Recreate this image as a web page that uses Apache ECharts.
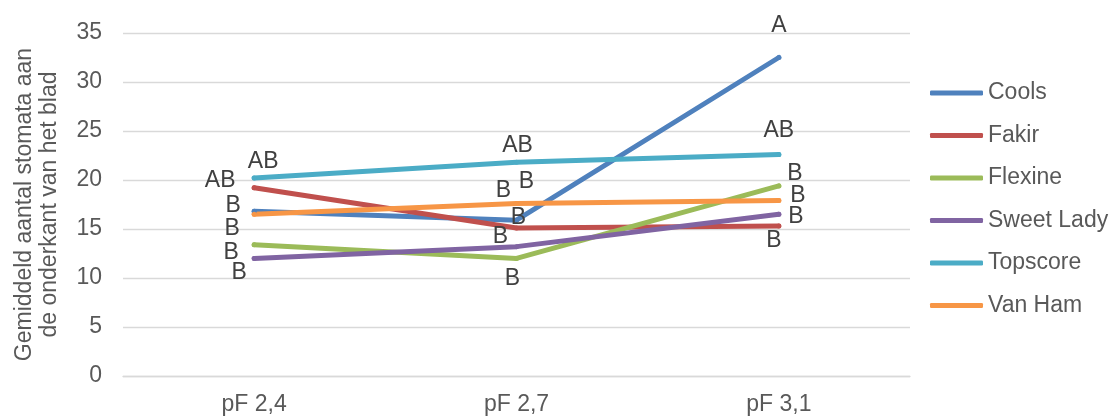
<!DOCTYPE html>
<html>
<head>
<meta charset="utf-8">
<script src="https://cdn.jsdelivr.net/npm/echarts@6/dist/echarts.min.js"></script>
<style>
	html, body { margin: 0; padding: 0; background: #fff; }
	#chart { width: 1110px; height: 417px; }
</style>
</head>
<body>
<div id="chart"></div>
<script>
// categories and values
var categories = ['pF 2,4', 'pF 2,7', 'pF 3,1'];
var names = ['Cools', 'Fakir', 'Flexine', 'Sweet Lady', 'Topscore', 'Van Ham'];

var cools = [16.8, 15.9, 32.5];
var fakir = [19.2, 15.1, 15.3];
var flexine = [13.4, 12.0, 19.4];
var sweetLady = [12.0, 13.2, 16.5];
var topscore = [20.2, 21.8, 22.6];
var vanHam = [16.5, 17.6, 17.9];

// significance letters
var coolsLetters = ['B', 'B', 'A'];
var fakirLetters = ['AB', 'B', 'B'];
var flexineLetters = ['B', 'B', 'B'];
var sweetLadyLetters = ['B', 'B', 'B'];
var topscoreLetters = ['AB', 'AB', 'AB'];
var vanHamLetters = ['B', 'B', 'B'];

var yTicks = [0, 5, 10, 15, 20, 25, 30, 35];

var values = [cools, fakir, flexine, sweetLady, topscore, vanHam];
var letters = [coolsLetters, fakirLetters, flexineLetters, sweetLadyLetters, topscoreLetters, vanHamLetters];
var colors = ['#4F81BD', '#C0504D', '#9BBB59', '#8064A2', '#4BACC6', '#F79646'];

// manual label placement (pixels from the point), like the hand-moved labels in the original
var labelShift = [
	[[-21, -6], [2, -3], [0, -32]],
	[[-34, -7], [10, -46], [-5, 15]],
	[[-23, 8], [-4, 20], [16, -12]],
	[[-15, 14], [-16, -10], [17, 2]],
	[[9, -16], [1, -17], [0, -24]],
	[[-22, 14], [-13, -13], [19, -5]]
];

var font = 'Liberation Sans, Arial, sans-serif';
var myChart = echarts.init(document.getElementById('chart'));

var series = [];
for (var s = 0; s < names.length; s++) {
	var data = [];
	for (var i = 0; i < categories.length; i++) {
		data.push({
			value : values[s][i],
			label : {
				formatter : letters[s][i],
				offset : labelShift[s][i]
			}
		});
	}
	series.push({
		name : names[s],
		type : 'line',
		data : data,
		symbol : 'circle',
		symbolSize : 5,
		color : colors[s],
		itemStyle : { color : colors[s] },
		lineStyle : { width : 5, color : colors[s], cap : 'round', join : 'round' },
		emphasis : { disabled : true },
		label : {
			show : true,
			position : 'inside',
			fontFamily : font,
			fontSize : 23,
			color : '#404040',
			align : 'center',
			verticalAlign : 'middle'
		},
		animation : false
	});
}

var option = {
	grid : { left : 123, right : 200, top : 33, bottom : 41, containLabel : false, outerBoundsMode : 'none' },
	legend : {
		orient : 'vertical',
		left : 925,
		top : 75,
		icon : 'roundRect',
		itemWidth : 53,
		itemHeight : 5,
		itemGap : 16.5,
		textStyle : { fontFamily : font, fontSize : 23, color : '#595959', lineHeight : 26 },
		data : names
	},
	xAxis : {
		type : 'category',
		data : categories,
		boundaryGap : true,
		axisLine : { lineStyle : { color : '#d9d9d9', width : 1.3 } },
		axisTick : { show : false },
		axisLabel : { fontFamily : font, fontSize : 23, color : '#595959', margin : 17 }
	},
	yAxis : {
		type : 'value',
		min : yTicks[0],
		max : yTicks[yTicks.length - 1],
		interval : 5,
		name : 'Gemiddeld aantal stomata aan\nde onderkant van het blad',
		nameLocation : 'middle',
		nameRotate : 90,
		nameGap : 61,
		nameTextStyle : { fontFamily : font, fontSize : 23, color : '#595959', lineHeight : 25 },
		axisLine : { show : false },
		axisTick : { show : false },
		splitLine : { lineStyle : { color : '#d9d9d9', width : 1.3 } },
		axisLabel : { fontFamily : font, fontSize : 23, color : '#595959', margin : 21 }
	},
	series : series
};
myChart.setOption(option);
</script>
</body>
</html>
